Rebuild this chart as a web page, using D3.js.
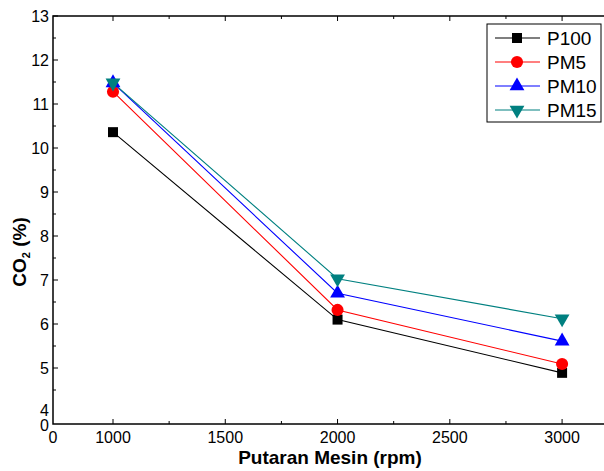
<!DOCTYPE html>
<html>
<head>
<meta charset="utf-8">
<script src="https://cdn.jsdelivr.net/npm/d3@7/dist/d3.min.js"></script>
<style>
  body { margin: 0; background: #fff; }
  text { font-family: "Liberation Sans", Arial, sans-serif; }
</style>
</head>
<body>
<svg id="svg"></svg>
<script>
// data
const rpm = [1000, 2000, 3000];
const seriesNames = ["P100", "PM5", "PM10", "PM15"];
const p100 = [10.36, 6.1, 4.89];
const pm5 = [11.28, 6.32, 5.09];
const pm10 = [11.48, 6.7, 5.61];
const pm15 = [11.48, 7.03, 6.12];
const xTicks = [0, 1000, 1500, 2000, 2500, 3000];
const xMinor = [1250, 1750, 2250, 2750, 3250];
const yTicks = [0, 4, 5, 6, 7, 8, 9, 10, 11, 12, 13];
const yMinor = [4.5, 5.5, 6.5, 7.5, 8.5, 9.5, 10.5, 11.5, 12.5];

const w = 604, h = 471;
const plotLeft = 53, plotTop = 16, plotRight = 607, plotBottom = 424;

const svg = d3.select("#svg").attr("width", w).attr("height", h);

// broken axes: 0 sits just under the first real tick
const x = d3.scaleLinear().domain([0, 1000, 3200]).range([plotLeft, 113, plotRight]);
const y = d3.scaleLinear().domain([0, 4, 13]).range([plotBottom, 412, plotTop]);

// frame
svg.append("rect")
   .attr("x", plotLeft).attr("y", plotTop)
   .attr("width", plotRight - plotLeft).attr("height", plotBottom - plotTop)
   .attr("fill", "none").attr("stroke", "#000").attr("stroke-width", 1.5);

// inward ticks
function tickMarks(vals, len, horizontal) {
  vals.forEach(v => {
    if (horizontal) {
      let px = x(v);
      svg.append("line").attr("x1", px).attr("x2", px).attr("y1", plotBottom).attr("y2", plotBottom - len).attr("stroke", "#000");
      svg.append("line").attr("x1", px).attr("x2", px).attr("y1", plotTop).attr("y2", plotTop + len).attr("stroke", "#000");
    } else {
      let py = y(v);
      svg.append("line").attr("x1", plotLeft).attr("x2", plotLeft + len).attr("y1", py).attr("y2", py).attr("stroke", "#000");
    }
  });
}
tickMarks(xTicks.filter(d => d > 0), 5, true);
tickMarks(xMinor, 3, true);
tickMarks(yTicks.filter(d => d > 4), 5, false);
tickMarks(yMinor, 3, false);

svg.selectAll(".xlab")
   .data(xTicks)
   .enter()
   .append("text")
   .attr("x", d => x(d))
   .attr("y", plotBottom + 19)
   .attr("text-anchor", "middle")
   .attr("font-size", "16px")
   .text(d => d);

svg.selectAll(".ylab")
   .data(yTicks)
   .enter()
   .append("text")
   .attr("x", plotLeft - 4)
   .attr("y", d => y(d) + (d === 4 ? 4 : d === 0 ? 7 : 5.5))
   .attr("text-anchor", "end")
   .attr("font-size", "16px")
   .text(d => d);

// axis titles
svg.append("text")
   .attr("x", 330).attr("y", 464)
   .attr("text-anchor", "middle")
   .attr("font-size", "19px").attr("font-weight", "bold")
   .text("Putaran Mesin (rpm)");

let yt = svg.append("text")
   .attr("transform", "translate(26,252) rotate(-90)")
   .attr("text-anchor", "middle")
   .attr("font-size", "19px").attr("font-weight", "bold");
yt.append("tspan").text("CO");
yt.append("tspan").attr("font-size", "11px").attr("dy", 4).text("2");
yt.append("tspan").attr("dy", -4).text(" (%)");

// series
const series = [
  { name: seriesNames[0], values: p100, color: "#000000", shape: d3.symbolSquare, size: 100 },
  { name: seriesNames[1], values: pm5, color: "#ff0000", shape: d3.symbolCircle, size: 115 },
  { name: seriesNames[2], values: pm10, color: "#0000ff", shape: d3.symbolTriangle, size: 95 },
  { name: seriesNames[3], values: pm15, color: "#008080", shape: d3.symbolTriangle, size: 95, flip: true }
];

const line = d3.line().x((d, i) => x(rpm[i])).y(d => y(d));

series.forEach(s => {
  svg.append("path")
     .datum(s.values)
     .attr("d", line)
     .attr("fill", "none")
     .attr("stroke", s.color)
     .attr("stroke-width", 1.1);
});

series.forEach(s => {
  svg.selectAll(null)
     .data(s.values)
     .enter()
     .append("path")
     .attr("d", d3.symbol().type(s.shape).size(s.size))
     .attr("transform", (d, i) => "translate(" + x(rpm[i]) + "," + y(d) + ")" + (s.flip ? " rotate(180)" : ""))
     .attr("fill", s.color);
});

// legend
const lg = svg.append("g");
lg.append("rect")
  .attr("x", 487).attr("y", 24).attr("width", 114).attr("height", 98)
  .attr("fill", "#fff").attr("stroke", "#000").attr("stroke-width", 1);
series.forEach((s, i) => {
  let ly = 38 + i * 24;
  lg.append("line").attr("x1", 495).attr("x2", 540).attr("y1", ly).attr("y2", ly)
    .attr("stroke", s.color).attr("stroke-width", 1.1);
  lg.append("path")
    .attr("d", d3.symbol().type(s.shape).size(s.size))
    .attr("transform", "translate(517," + ly + ")" + (s.flip ? " rotate(180)" : ""))
    .attr("fill", s.color);
  lg.append("text")
    .attr("x", 547).attr("y", ly + 7)
    .attr("font-size", "19px")
    .text(s.name);
});
</script>
</body>
</html>
